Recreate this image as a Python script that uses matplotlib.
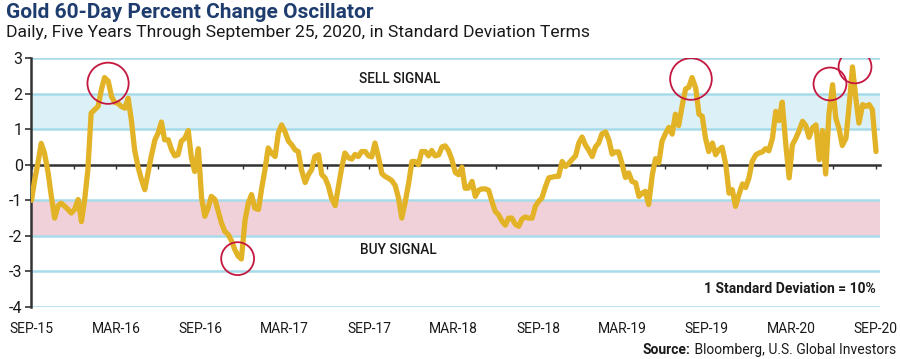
import numpy as np
import pandas as pd
import matplotlib
matplotlib.use("Agg")
import matplotlib.pyplot as plt

plt.rcParams['font.family'] = ['Roboto', 'DejaVu Sans']

# ---- data (standard deviation terms, roughly weekly from Sep 25 2015 to Sep 25 2020)
oscillator = [
    -1.0, -0.42, 0.05, 0.6, 0.33, -0.23, -0.9, -1.5, -1.17, -1.08,
    -1.17, -1.26, -1.36, -1.26, -0.98, -1.6, -0.98, -0.14, 1.45, 1.55,
    1.64, 2.1, 2.45, 2.35, 1.92, 1.75, 1.73, 1.64, 1.59, 1.87,
    1.26, 0.42, -0.09, -0.42, -0.7, -0.23, 0.23, 0.7, 0.89, 1.2,
    0.7, 0.7, 0.42, 0.25, 0.28, 0.66, 0.75, 0.96, 0.19, -0.19,
    0.45, -0.94, -1.45, -1.22, -0.89, -0.98, -1.31, -1.64, -1.87, -1.97,
    -2.15, -2.39, -2.57, -2.65, -1.55, -1.08, -0.84, -1.22, -1.26, -0.66,
    -0.14, 0.47, 0.33, 0.23, 0.89, 1.12, 0.94, 0.66, 0.56, 0.42,
    0.37, -0.14, -0.5, -0.28, -0.14, 0.23, 0.28, -0.28, -0.37, -0.59,
    -0.94, -1.15, -0.61, -0.09, 0.33, 0.19, 0.16, 0.29, 0.23, 0.37,
    0.37, 0.25, 0.22, 0.61, 0.19, -0.25, -0.33, -0.38, -0.44, -0.59,
    -0.94, -1.5, -1.08, -0.51, 0.09, 0.09, 0.0, 0.37, 0.37, 0.25,
    0.4, 0.25, 0.28, 0.5, 0.53, 0.4, 0.16, -0.22, -0.28, -0.07,
    -0.66, -0.66, -0.47, -0.89, -0.72, -0.68, -0.68, -0.72, -1.03, -1.31,
    -1.4, -1.59, -1.7, -1.5, -1.5, -1.68, -1.73, -1.53, -1.47, -1.5,
    -1.5, -1.17, -1.03, -0.94, -0.61, -0.37, -0.35, -0.33, -0.33, 0.09,
    -0.05, 0.03, 0.14, 0.25, 0.61, 0.78, 0.56, 0.42, 0.23, 0.5,
    0.61, 0.87, 0.92, 0.7, 0.3, 0.36, 0.36, 0.0, -0.36, -0.23,
    -0.47, -0.51, -0.89, -0.8, -0.75, -1.12, -0.28, 0.17, 0.05, 0.66,
    0.89, 1.05, 0.86, 1.42, 1.1, 1.69, 2.13, 2.18, 2.45, 2.15,
    1.42, 1.36, 0.75, 0.37, 0.61, 0.28, 0.42, 0.49, 0.0, -0.8,
    -0.7, -1.17, -0.86, -0.54, -0.64, -0.37, 0.09, 0.28, 0.33, 0.36,
    0.45, 0.39, 0.75, 1.5, 1.24, 1.76, 0.54, -0.37, 0.56, 0.73,
    0.94, 1.22, 1.1, 0.77, 1.03, 1.12, 0.14, 0.96, -0.26, 1.42,
    2.25, 1.31, 1.01, 0.54, 0.75, 1.69, 2.75, 1.9, 1.17, 1.69,
    1.64, 1.69, 1.55, 0.37,
]
start_date = "2015-09-25"
end_date = "2020-09-25"
tick_labels = ["SEP-15", "MAR-16", "SEP-16", "MAR-17", "SEP-17", "MAR-18",
               "SEP-18", "MAR-19", "SEP-19", "MAR-20", "SEP-20"]
y_ticks = [3, 2, 1, 0, -1, -2, -3, -4]
# highlighted extremes: (months since start, value)
circle_months = [5.44, 14.65, 46.87, 56.75, 58.53]
circle_values = [2.29, -2.64, 2.41, 2.27, 2.75]
circle_sizes = [880, 560, 900, 560, 560]

# ---- x in months since start
dates = pd.date_range(start_date, end_date, periods=len(oscillator))
t0 = dates[0]
months = np.asarray((dates - t0).days) / (365.25 / 12)

W, H = 900, 359
fig = plt.figure(figsize=(W / 100, H / 100), dpi=100)
ax = fig.add_axes([31 / W, 1 - 307 / H, (880 - 31) / W, (307 - 58) / H])

px_per_month = 14.07
ax.set_xlim((31 - 31.5) / px_per_month, (880 - 31.5) / px_per_month)
ax.set_ylim(-4, 3)

grid_c = "#a8dbea"
ax.axhspan(1, 2, color="#dcf1f7", zorder=0, lw=0)
ax.axhspan(-2, -1, color="#f1d1d9", zorder=0, lw=0)
for y in y_ticks:
    if y != 0:
        ax.axhline(y, color=grid_c, lw=1.8, zorder=1)

ax.plot(months, oscillator, color="#e2b327", lw=3.8, solid_joinstyle="round",
        solid_capstyle="round", zorder=3)

ax.scatter(circle_months, circle_values, s=circle_sizes, facecolors="none",
           edgecolors="#c4173f", linewidths=1.3, zorder=4)

# spines
for s in ["top", "right"]:
    ax.spines[s].set_visible(False)
ax.spines["left"].set_color("#333333")
ax.spines["left"].set_linewidth(1.8)
ax.spines["bottom"].set_position(("data", 0))
ax.spines["bottom"].set_color("#333333")
ax.spines["bottom"].set_linewidth(1.8)
ax.spines["bottom"].set_zorder(2)

ax.set_xticks(np.arange(0, 61, 3))
ax.tick_params(axis="x", length=3, width=1, color="#333333", labelbottom=False)
ax.set_yticks(y_ticks)
ax.set_yticklabels([str(v) for v in y_ticks])
ax.tick_params(axis="y", length=4, width=1.2, color="#333333", labelsize=11.5,
               pad=2, labelcolor="#1a1a1a")

sec = ax.secondary_xaxis("bottom")
sec.set_xticks(np.arange(0, 61, 6))
sec.set_xticklabels(tick_labels)
sec.tick_params(length=0, pad=11, labelsize=10, labelcolor="#1a1a1a")
sec.spines["bottom"].set_visible(False)

# text
fig.text(6 / W, 1 - 13 / H, "Gold 60-Day Percent Change Oscillator", fontsize=15,
         fontweight="bold", color="#1f3c6e", va="center", ha="left")
fig.text(6 / W, 1 - 33 / H,
         "Daily, Five Years Through September 25, 2020, in Standard Deviation Terms",
         fontsize=12.6, color="#1a1a1a", va="center", ha="left")
ax.text(400 / 14.07 - 31.5 / 14.07, 2.4, "SELL SIGNAL", fontsize=9.8, fontweight="medium",
        ha="center", va="center", color="#1a1a1a")
ax.text(398 / 14.07 - 31.5 / 14.07, -2.4, "BUY SIGNAL", fontsize=9.8, fontweight="medium",
        ha="center", va="center", color="#1a1a1a")
ax.text(0.9945, -3.5, "1 Standard Deviation = 10%", transform=ax.get_yaxis_transform(),
        fontsize=10, fontweight="bold", ha="right", va="center", color="#1a1a1a")
src = fig.text(896 / W, 1 - 350 / H, " Bloomberg, U.S. Global Investors", fontsize=10,
               ha="right", va="center", color="#1a1a1a")
fig.canvas.draw()
bb = src.get_window_extent()
fig.text(bb.x0 / W, 1 - 350 / H, "Source:", fontsize=10, fontweight="bold",
         ha="right", va="center", color="#1a1a1a")

fig.savefig("out.png", dpi=100)
